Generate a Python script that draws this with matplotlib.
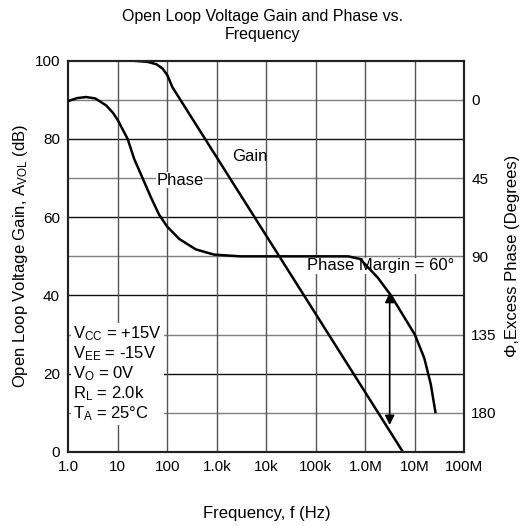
import numpy as np
import matplotlib
matplotlib.use('Agg')
import matplotlib.pyplot as plt
from matplotlib.ticker import NullLocator, FixedLocator, FixedFormatter

plt.rcParams['font.family'] = ['Liberation Sans', 'DejaVu Sans']
plt.rcParams['mathtext.fontset'] = 'custom'
plt.rcParams['mathtext.rm'] = 'Liberation Sans'
plt.rcParams['mathtext.it'] = 'Liberation Sans'

# gain curve (dB) vs frequency (Hz)
gain_freq = [1, 10, 20, 40, 60, 80, 100, 127, 5.75e6]
gain_db = [100, 100, 100, 99.7, 99.1, 98.0, 96.3, 93.2, 0]

# excess phase curve (degrees) vs frequency (Hz)
phase_freq = [1, 1.5, 2.3, 3.5, 5.8, 8, 10, 12.5, 15.8, 21.4, 31.6, 46.5, 68, 100,
              174, 376, 875, 3e3, 1e4, 1e5, 4.5e5, 7.8e5, 1e6, 1.8e6, 3.3e6, 6.2e6,
              1e7, 1.55e7, 2.1e7, 2.6e7]
phase_deg = [0.7, -1.0, -1.6, -0.8, 3.2, 7.5, 11.7, 17, 22.5, 34, 45, 56, 66, 73,
             80, 86, 89, 90, 90, 90, 90, 91.5, 94.7, 102.4, 112.5, 125.3,
             135, 148.5, 163.6, 179.5]

x_ticks = [1, 10, 100, 1e3, 1e4, 1e5, 1e6, 1e7, 1e8]
x_labels = ['1.0', '10', '100', '1.0k', '10k', '100k', '1.0M', '10M', '100M']
gain_ticks = [0, 20, 40, 60, 80, 100]
phase_ticks = [0, 45, 90, 135, 180]

cond_lines = [r'V$_{\mathrm{CC}}$ = +15V', r'V$_{\mathrm{EE}}$ = -15V',
              r'V$_{\mathrm{O}}$ = 0V', r'R$_{\mathrm{L}}$ = 2.0k',
              r'T$_{\mathrm{A}}$ = 25°C']

# phase axis: 0 deg sits on the 90 dB line, 180 deg on the 10 dB line
phase0_db = 90
deg_per_db = 2.25
fs = 11
fs_lab = 12

fig = plt.figure(figsize=(5.26, 5.26), dpi=100)
ax = fig.add_axes([0.1299, 0.1407, 0.7529, 0.7439])
ax.set_xscale('log')
ax.set_xlim(1, 1e8)
ax.set_ylim(0, 100)

# grid
for yv in range(10, 100, 10):
    c = '#111111' if yv % 20 == 0 else '#808080'
    ax.axhline(yv, color=c, lw=1.0, zorder=1)
for xv in x_ticks[1:-1]:
    ax.axvline(xv, color='#555555', lw=1.0, zorder=1)

ax.plot(gain_freq, gain_db, color='black', lw=1.8, zorder=3)
ax.set_ylabel(r'Open Loop Voltage Gain, A$_{\mathrm{VOL}}$ (dB)', fontsize=fs_lab, labelpad=3)
ax.set_yticks(gain_ticks)

ax2 = ax.twinx()
ax2.set_ylim(phase0_db * deg_per_db, (phase0_db - 100) * deg_per_db)
ax2.plot(phase_freq, phase_deg, color='black', lw=1.8, zorder=3)
ax2.set_yticks(phase_ticks)
ax2.tick_params(length=0, labelsize=fs, pad=5)
ax2.set_ylabel('Φ,Excess Phase (Degrees)', fontsize=fs_lab, labelpad=6)

ax.xaxis.set_major_locator(FixedLocator(x_ticks))
ax.xaxis.set_major_formatter(FixedFormatter(x_labels))
ax.xaxis.set_minor_locator(NullLocator())
ax.tick_params(length=0, labelsize=fs, pad=6)
ax.set_xlabel('Frequency, f (Hz)', fontsize=fs_lab, labelpad=23)

for a in (ax, ax2):
    for s in a.spines.values():
        s.set_linewidth(1.5)
        s.set_color('#222222')

# phase margin arrow
ax2.annotate('', xy=(3.1e6, 111), xytext=(3.1e6, 187),
             arrowprops=dict(arrowstyle='<|-|>', color='black', lw=1.2,
                             mutation_scale=14, shrinkA=0, shrinkB=0))

ax.text(4.7e3, 75.6, 'Gain', fontsize=fs_lab, ha='center', va='center', zorder=4)
ax.text(180, 69.5, 'Phase', fontsize=fs_lab, ha='center', va='center', zorder=4,
        bbox=dict(facecolor='white', edgecolor='none', pad=0.5))
ax.text(2.0e6, 47.6, 'Phase Margin = 60°', fontsize=fs_lab, ha='center', va='center', zorder=4,
        bbox=dict(facecolor='white', edgecolor='none', pad=0.5))
ax.text(1.25, 20, '\n'.join(cond_lines), fontsize=fs_lab, ha='left', va='center',
        linespacing=1.08, zorder=4,
        bbox=dict(facecolor='white', edgecolor='none', pad=1.5))

fig.suptitle('Open Loop Voltage Gain and Phase vs.\nFrequency', fontsize=11.5, y=0.982)

fig.savefig('out.png', dpi=100)
